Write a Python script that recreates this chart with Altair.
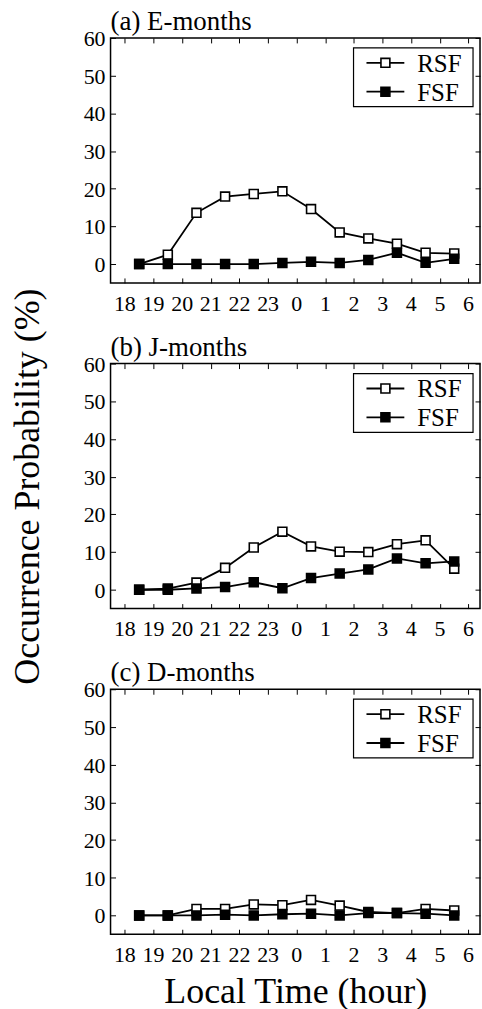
import altair as alt
import pandas as pd

# Local time slots (hour centres) and axis ticks
local_time = [18.5, 19.5, 20.5, 21.5, 22.5, 23.5, 0.5, 1.5, 2.5, 3.5, 4.5, 5.5]
hour_ticks = [18, 19, 20, 21, 22, 23, 0, 1, 2, 3, 4, 5, 6]
y_ticks = [0, 10, 20, 30, 40, 50, 60]
series_names = ["RSF", "FSF"]

# Occurrence probability (%)
e_rsf = [0, 2.5, 13.6, 17.9, 18.6, 19.3, 14.6, 8.4, 6.8, 5.4, 3.0, 2.8]
e_fsf = [0, 0, 0, 0, 0, 0.3, 0.6, 0.3, 1.1, 3.0, 0.35, 1.4]
j_rsf = [0, 0.3, 1.9, 5.8, 11.2, 15.4, 11.5, 10.1, 10.0, 12.1, 13.1, 5.6]
j_fsf = [0, 0, 0.35, 0.7, 2.0, 0.4, 3.1, 4.3, 5.4, 8.3, 7.0, 7.5]
d_rsf = [0, 0, 1.7, 1.7, 2.9, 2.7, 4.1, 2.6, 0.9, 0.6, 1.7, 1.3]
d_fsf = [0, 0, 0, 0.2, 0, 0.3, 0.45, 0, 0.6, 0.6, 0.45, 0]

panels = [
    ("(a) E-months", e_rsf, e_fsf),
    ("(b) J-months", j_rsf, j_fsf),
    ("(c) D-months", d_rsf, d_fsf),
]

FONT = "Liberation Serif"
tick_pos = [(h - 18) % 24 for h in hour_ticks]
x_dom = [-0.5, 12.4]
y_dom = [-5, 60]
INWARD = {"expr": "-5"}
W, H = 371, 246
xs = alt.Scale(domain=x_dom, nice=False, zero=False)
ys = alt.Scale(domain=y_dom, nice=False, zero=False)


def make_df(rsf, fsf):
    rows = []
    for s, vals in zip(series_names, (rsf, fsf)):
        for t, v in zip(local_time, vals):
            rows.append({"pos": (t - 18) % 24, "value": v, "series": s})
    return pd.DataFrame(rows)


xlab_df = pd.DataFrame({"pos": tick_pos, "label": [str(h) for h in hour_ticks]})
ylab_df = pd.DataFrame({"value": y_ticks, "label": [str(v) for v in y_ticks]})


def legend_layers():
    one = pd.DataFrame({"k": [0]})
    box = alt.Chart(one).mark_rect(
        fill="white", stroke="black", strokeWidth=1.2
    ).encode(x=alt.value(244), x2=alt.value(364),
             y=alt.value(10), y2=alt.value(69))
    layers = [box]
    for name, fill, yy in (("RSF", "white", 25), ("FSF", "black", 54)):
        d = pd.DataFrame({"label": [name]})
        layers.append(alt.Chart(d).mark_rule(
            color="black", strokeWidth=1.8
        ).encode(x=alt.value(257), x2=alt.value(295), y=alt.value(yy)))
        layers.append(alt.Chart(d).mark_point(
            shape="square", filled=True, fill=fill, stroke="black",
            strokeWidth=1.6, size=80, opacity=1,
        ).encode(x=alt.value(276), y=alt.value(yy)))
        layers.append(alt.Chart(d).mark_text(
            align="left", baseline="middle", font=FONT, fontSize=25,
            color="black", dy=1,
        ).encode(x=alt.value(308), y=alt.value(yy), text="label:N"))
    return layers


def panel(title, rsf, fsf, i):
    df = make_df(rsf, fsf)
    x_axis = alt.Axis(
        values=tick_pos, labels=False, tickSize=INWARD,
        title="Local Time (hour)" if i == 2 else None,
        titleFont=FONT, titleFontSize=36, titlePadding=40,
    )
    y_axis = alt.Axis(
        values=y_ticks, labels=False, tickSize=INWARD,
        title="Occurrence Probability (%)" if i == 1 else None,
        titleFont=FONT, titleFontSize=36, titlePadding=64,
    )
    x_top = alt.Axis(orient="top", values=tick_pos, labels=False,
                     tickSize=INWARD, title=None)
    y_right = alt.Axis(orient="right", values=y_ticks, labels=False,
                       tickSize=INWARD, title=None)

    lines = alt.Chart(df).mark_line(color="black", strokeWidth=1.8).encode(
        x=alt.X("pos:Q", scale=xs, axis=x_axis),
        y=alt.Y("value:Q", scale=ys, axis=y_axis),
        detail="series:N",
    )
    pts = alt.Chart(df).mark_point(
        shape="square", filled=True, stroke="black", strokeWidth=1.6,
        size=80, opacity=1,
    ).encode(
        x=alt.X("pos:Q", scale=xs, axis=x_top),
        y=alt.Y("value:Q", scale=ys, axis=y_right),
        fill=alt.Fill(
            "series:N",
            scale=alt.Scale(domain=series_names, range=["white", "black"]),
            legend=None,
        ),
    )
    xlabels = alt.Chart(xlab_df).mark_text(
        baseline="top", align="center", font=FONT, fontSize=22, color="black",
    ).encode(
        x=alt.X("pos:Q", scale=xs, axis=None),
        y=alt.value(H + 11),
        text="label:N",
    )
    ylabels = alt.Chart(ylab_df).mark_text(
        baseline="middle", align="right", font=FONT, fontSize=22,
        color="black", dy=1,
    ).encode(
        x=alt.value(-5),
        y=alt.Y("value:Q", scale=ys, axis=None),
        text="label:N",
    )
    label = alt.Chart(pd.DataFrame({"label": [title]})).mark_text(
        align="left", baseline="alphabetic", dy=-8, font=FONT,
        fontSize=27, color="black",
    ).encode(x=alt.value(0), y=alt.value(0), text="label:N")

    return alt.layer(
        lines, pts, xlabels, ylabels, label, *legend_layers()
    ).resolve_axis(
        x="independent", y="independent"
    ).properties(width=W, height=H)


charts = [panel(t, r, f, i) for i, (t, r, f) in enumerate(panels)]

chart = alt.vconcat(*charts, spacing=81, bounds="flush").configure(
    font=FONT,
).configure_axis(
    titleFontWeight="normal", titleColor="black",
    tickColor="black", tickWidth=1, domain=False, grid=False,
).configure_view(
    stroke="black", strokeWidth=1.5
).properties(
    padding={"left": 8, "top": 5, "right": 0, "bottom": 0},
    background="white",
)

chart.save("out.html", embed_options={"renderer": "svg", "actions": False})
